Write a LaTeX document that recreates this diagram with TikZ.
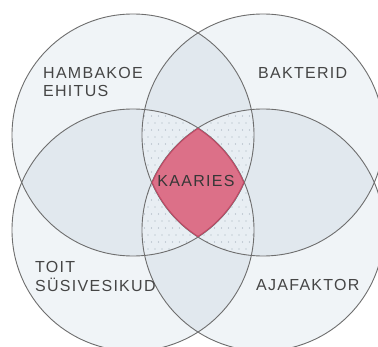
\documentclass[tikz,border=0pt]{standalone}
\usepackage{fontspec}
\setmainfont[LetterSpace=8]{Liberation Sans}
\definecolor{one}{HTML}{F0F4F7}
\definecolor{two}{HTML}{E1E8EE}
\definecolor{three}{HTML}{E8EEF3}
\definecolor{dotc}{HTML}{A2AEBA}
\definecolor{four}{HTML}{DC7088}
\definecolor{fourb}{HTML}{C24A66}
\definecolor{ring}{HTML}{6E6E6E}
\definecolor{txt}{HTML}{454545}
\begin{document}
\begin{tikzpicture}[x=1pt,y=-1pt,
  ringline/.style={draw=ring,line width=0.9pt},
  lbl/.style={inner sep=0pt,anchor=base west,text=txt,font=\fontsize{16}{16}\selectfont},
  mid/.style={inner sep=0pt,anchor=base,text={txt!80!black},font=\fontsize{16}{16}\selectfont}]
\useasboundingbox (0,0) rectangle (378,347);
\fill[white] (0,0) rectangle (378,347);
\def\R{121pt}
\coordinate (tl) at (133,135);
\coordinate (tr) at (263,135);
\coordinate (bl) at (133,230);
\coordinate (br) at (263,230);
% single
\foreach \c in {tl,tr,bl,br} \fill[one] (\c) circle[radius=\R];
% pairs
\foreach \a/\b in {tl/tr,tl/bl,tr/br,bl/br,tl/br,tr/bl}{
  \begin{scope}
    \clip (\a) circle[radius=\R];
    \fill[two] (\b) circle[radius=\R];
  \end{scope}}
% triples
\foreach \a/\b/\c in {tl/tr/bl,tl/tr/br,tl/bl/br,tr/bl/br}{
  \begin{scope}
    \clip (\a) circle[radius=\R];
    \clip (\b) circle[radius=\R];
    \fill[three] (\c) circle[radius=\R];
    \clip (\c) circle[radius=\R];
    \foreach \i in {0,...,22}{
      \foreach \j in {0,...,22}{
        \fill[dotc] ({120+\i*7+3.5*mod(\j,2)},{95+\j*7}) circle[radius=0.6pt];
      }}
  \end{scope}}
% all four
\begin{scope}
  \clip (tl) circle[radius=\R];
  \clip (tr) circle[radius=\R];
  \clip (bl) circle[radius=\R];
  \fill[four] (br) circle[radius=\R];
\end{scope}
% outlines
\foreach \c in {tl,tr,bl,br} \draw[ringline] (\c) circle[radius=\R];
% diamond border
\begin{scope}
  \clip (tl) circle[radius=\R];
  \clip (tr) circle[radius=\R];
  \clip (bl) circle[radius=\R];
  \clip (br) circle[radius=\R];
  \draw[fourb,line width=2pt] (tl) circle[radius=\R];
  \draw[fourb,line width=2pt] (tr) circle[radius=\R];
  \draw[fourb,line width=2pt] (bl) circle[radius=\R];
  \draw[fourb,line width=2pt] (br) circle[radius=\R];
\end{scope}
% labels
\node[lbl] (h1) at (43,79) {HAMBAKOE};
\node[lbl] (h2) at (43,97) {EHITUS};
\node[lbl] (bk) at (258,79) {BAKTERID};
\node[lbl] (t1) at (35,273) {TOIT};
\node[lbl] (t2) at (35,292) {SÜSIVESIKUD};
\node[lbl] (aj) at (256,291) {AJAFAKTOR};
\node[mid] (ka) at (196,187) {KAARIES};
\end{tikzpicture}
\end{document}
